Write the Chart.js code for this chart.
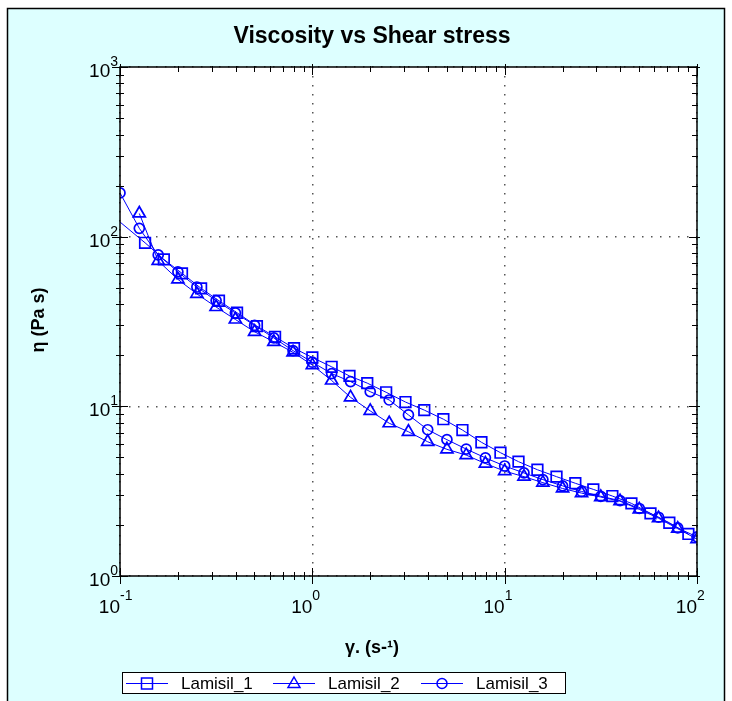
<!DOCTYPE html>
<html>
<head>
<meta charset="utf-8">
<script src="https://cdn.jsdelivr.net/npm/chart.js@4.4.0/dist/chart.umd.min.js"></script>
<style>
  html, body { margin: 0; padding: 0; background: #fff; }
  canvas { display: block; }
</style>
</head>
<body>
<canvas id="viscChart" width="732" height="701"></canvas>
<script>
// shear rate (1/s) and viscosity (Pa s)
var shear1 = [0.1, 0.135, 0.169, 0.21, 0.264, 0.327, 0.406, 0.515, 0.64, 0.803, 1.0, 1.26, 1.56, 1.93, 2.42, 3.05, 3.82, 4.8, 6.03, 7.57, 9.51, 11.8, 14.8, 18.6, 23.3, 28.9, 36.3, 45.6, 57.3, 71.8, 90.2];
var visc1 = [122, 92, 73.5, 60.8, 49.6, 41.9, 35.6, 29.7, 25.7, 22.0, 19.4, 17.1, 15.1, 13.7, 12.1, 10.6, 9.5, 8.4, 7.25, 6.14, 5.33, 4.72, 4.23, 3.85, 3.52, 3.24, 2.96, 2.68, 2.34, 2.06, 1.77];

var shear2 = [0.126, 0.158, 0.2, 0.251, 0.316, 0.398, 0.501, 0.631, 0.794, 1.0, 1.26, 1.58, 2.0, 2.51, 3.16, 3.98, 5.01, 6.31, 7.94, 10.0, 12.6, 15.8, 20.0, 25.1, 31.6, 39.8, 50.1, 63.1, 79.4, 100];
var visc2 = [137, 72, 56, 46, 38.5, 32.5, 27.5, 24, 20.8, 17.5, 14.2, 11.3, 9.4, 7.95, 7.08, 6.18, 5.58, 5.16, 4.6, 4.15, 3.85, 3.55, 3.28, 3.08, 2.92, 2.76, 2.47, 2.19, 1.9, 1.65];

var shear3 = [0.1, 0.126, 0.158, 0.2, 0.251, 0.316, 0.398, 0.501, 0.631, 0.794, 1.0, 1.26, 1.58, 2.0, 2.51, 3.16, 3.98, 5.01, 6.31, 7.94, 10.0, 12.6, 15.8, 20.0, 25.1, 31.6, 39.8, 50.1, 63.1, 79.4, 100];
var visc3 = [181, 112, 78, 62, 50.5, 42, 35.5, 30, 25.3, 21.3, 18.2, 15.6, 14.0, 12.2, 10.9, 8.9, 7.28, 6.36, 5.6, 4.97, 4.45, 4.05, 3.7, 3.4, 3.15, 2.95, 2.78, 2.5, 2.22, 1.92, 1.7];

var seriesNames = ['Lamisil_1', 'Lamisil_2', 'Lamisil_3'];
var markerStyles = ['rect', 'triangle', 'circle'];

// axis decades, their exponent labels, and minor tick multipliers
var decadesX = [0.1, 1, 10, 100];
var expLabelsX = ['-1', '0', '1', '2'];
var decadesY = [1, 10, 100, 1000];
var expLabelsY = ['0', '1', '2', '3'];
var minorSteps = [2, 3, 4, 5, 6, 7, 8, 9];

var FONT = '"Liberation Sans", Arial, sans-serif';
var BLUE = '#0000ff';

function pairs(xs, ys) {
    return xs.map(function(x, i) { return { x: x, y: ys[i] }; });
}

function isDecade(v) {
    var l = Math.log10(v);
    return Math.abs(l - Math.round(l)) < 1e-6;
}

function line(c, x1, y1, x2, y2) {
    c.beginPath();
    c.moveTo(x1, y1);
    c.lineTo(x2, y2);
    c.stroke();
}

function marker(c, style, x, y) {
    c.beginPath();
    if (style === 'rect') {
        c.rect(x - 5.5, y - 5.5, 11, 11);
    } else if (style === 'triangle') {
        c.moveTo(x, y - 6.5);
        c.lineTo(x + 6, y + 4);
        c.lineTo(x - 6, y + 4);
        c.closePath();
    } else {
        c.arc(x, y, 5, 0, Math.PI * 2);
    }
    c.stroke();
}

var framePlugin = {
    id: 'frame',
    beforeDraw: function(chart) {
        var c = chart.ctx, a = chart.chartArea;
        c.save();
        c.fillStyle = '#fff';
        c.fillRect(0, 0, chart.width, chart.height);
        c.fillStyle = '#ddffff';
        c.fillRect(7.5, 8.5, 717, 700);
        c.strokeStyle = '#000';
        c.lineWidth = 1.5;
        c.strokeRect(7.5, 8.5, 717, 700);
        c.fillStyle = '#fff';
        c.fillRect(a.left, a.top, a.right - a.left, a.bottom - a.top);
        c.restore();
    },
    afterDraw: function(chart) {
        var c = chart.ctx, a = chart.chartArea;
        var xs = chart.scales.x, ys = chart.scales.y;
        c.save();
        c.strokeStyle = '#000';
        c.fillStyle = '#000';

        // plot frame
        c.lineWidth = 1.5;
        c.strokeRect(a.left, a.top, a.right - a.left, a.bottom - a.top);

        // ticks, crossing on left/bottom, inward on top/right
        c.lineWidth = 1;
        decadesX.forEach(function(d, i) {
            var p = Math.round(xs.getPixelForValue(d)) + 0.5;
            line(c, p, a.bottom - 8, p, a.bottom + 8);
            line(c, p, a.top - 3, p, a.top + 8);
            if (i < decadesX.length - 1) {
                minorSteps.forEach(function(m) {
                    var q = Math.round(xs.getPixelForValue(d * m)) + 0.5;
                    line(c, q, a.bottom - 4, q, a.bottom + 4);
                    line(c, q, a.top - 1, q, a.top + 5);
                });
            }
        });
        decadesY.forEach(function(d, i) {
            var p = Math.round(ys.getPixelForValue(d)) + 0.5;
            line(c, a.left - 8, p, a.left + 8, p);
            line(c, a.right - 8, p, a.right + 3, p);
            if (i < decadesY.length - 1) {
                minorSteps.forEach(function(m) {
                    var q = Math.round(ys.getPixelForValue(d * m)) + 0.5;
                    line(c, a.left - 4, q, a.left + 4, q);
                    line(c, a.right - 5, q, a.right + 1, q);
                });
            }
        });

        // tick labels: 10 with a raised exponent
        c.textBaseline = 'alphabetic';
        decadesY.forEach(function(d, i) {
            var p = ys.getPixelForValue(d);
            c.font = '19px ' + FONT;
            var w1 = c.measureText('10').width;
            c.font = '14px ' + FONT;
            var w2 = c.measureText(expLabelsY[i]).width;
            var x0 = 118 - w1 - w2;
            c.textAlign = 'left';
            c.font = '19px ' + FONT;
            c.fillText('10', x0, p + 10);
            c.font = '14px ' + FONT;
            c.fillText(expLabelsY[i], x0 + w1, p - 1);
        });
        decadesX.forEach(function(d, i) {
            var p = xs.getPixelForValue(d);
            c.font = '19px ' + FONT;
            c.textAlign = 'right';
            c.fillText('10', p, a.bottom + 37);
            c.font = '14px ' + FONT;
            c.textAlign = 'left';
            c.fillText(expLabelsX[i], p, a.bottom + 24);
        });

        // titles
        c.textAlign = 'center';
        c.textBaseline = 'middle';
        c.font = 'bold 23px ' + FONT;
        c.fillText('Viscosity vs Shear stress', 372, 37);
        c.font = 'bold 18px ' + FONT;
        c.fillText('γ. (s-¹)', 372, 648);
        c.save();
        c.translate(39, 320);
        c.rotate(-Math.PI / 2);
        c.fillText('η (Pa s)', 0, 0);
        c.restore();

        // legend box
        c.fillStyle = '#fff';
        c.fillRect(122, 672, 443, 21);
        c.strokeStyle = '#000';
        c.lineWidth = 1;
        c.strokeRect(122.5, 672.5, 443, 21);
        var slots = [126, 273, 421];
        c.font = '17px ' + FONT;
        c.textAlign = 'left';
        c.textBaseline = 'middle';
        seriesNames.forEach(function(name, i) {
            var x0 = slots[i], y0 = 683.5;
            c.strokeStyle = BLUE;
            c.lineWidth = 1;
            line(c, x0, y0, x0 + 42, y0);
            c.lineWidth = 1.5;
            marker(c, markerStyles[i], x0 + 21, y0);
            c.fillStyle = '#000';
            c.fillText(name, x0 + 55, y0 + 1);
        });
        c.restore();
    }
};

function makeSet(i, xs, ys, radius) {
    return {
        label: seriesNames[i],
        data: pairs(xs, ys),
        borderColor: BLUE,
        backgroundColor: 'rgba(0,0,0,0)',
        borderWidth: 1,
        pointStyle: markerStyles[i],
        pointRadius: radius,
        pointBorderWidth: 1.7,
        pointBorderColor: BLUE,
        pointBackgroundColor: 'rgba(0,0,0,0)',
        tension: 0,
        clip: 0
    };
}

var ctx = document.getElementById('viscChart').getContext('2d');
var viscChart = new Chart(ctx, {
    type: 'line',
    data: {
        datasets: [
            makeSet(0, shear1, visc1, function(c) { return c.dataIndex === 0 ? 0 : 7.5; }),
            makeSet(1, shear2, visc2, 7),
            makeSet(2, shear3, visc3, 5)
        ]
    },
    options: {
        responsive: false,
        animation: false,
        devicePixelRatio: 1,
        layout: { padding: { left: 120, right: 35, top: 67, bottom: 125 }, autoPadding: false },
        plugins: {
            legend: { display: false },
            title: { display: false },
            tooltip: { enabled: false }
        },
        scales: {
            x: {
                type: 'logarithmic',
                min: 0.1,
                max: 100,
                ticks: { display: false },
                grid: {
                    drawTicks: false,
                    lineWidth: 1.5,
                    color: function(g) { return g.tick && isDecade(g.tick.value) ? '#555' : 'rgba(0,0,0,0)'; }
                },
                border: { display: false, dash: [1.5, 7.5] },
                afterFit: function(s) { s.height = 0; }
            },
            y: {
                type: 'logarithmic',
                min: 1,
                max: 1000,
                ticks: { display: false },
                grid: {
                    drawTicks: false,
                    lineWidth: 1.5,
                    color: function(g) { return g.tick && isDecade(g.tick.value) ? '#555' : 'rgba(0,0,0,0)'; }
                },
                border: { display: false, dash: [1.5, 7.5] },
                afterFit: function(s) { s.width = 0; }
            }
        }
    },
    plugins: [framePlugin]
});
</script>
</body>
</html>
